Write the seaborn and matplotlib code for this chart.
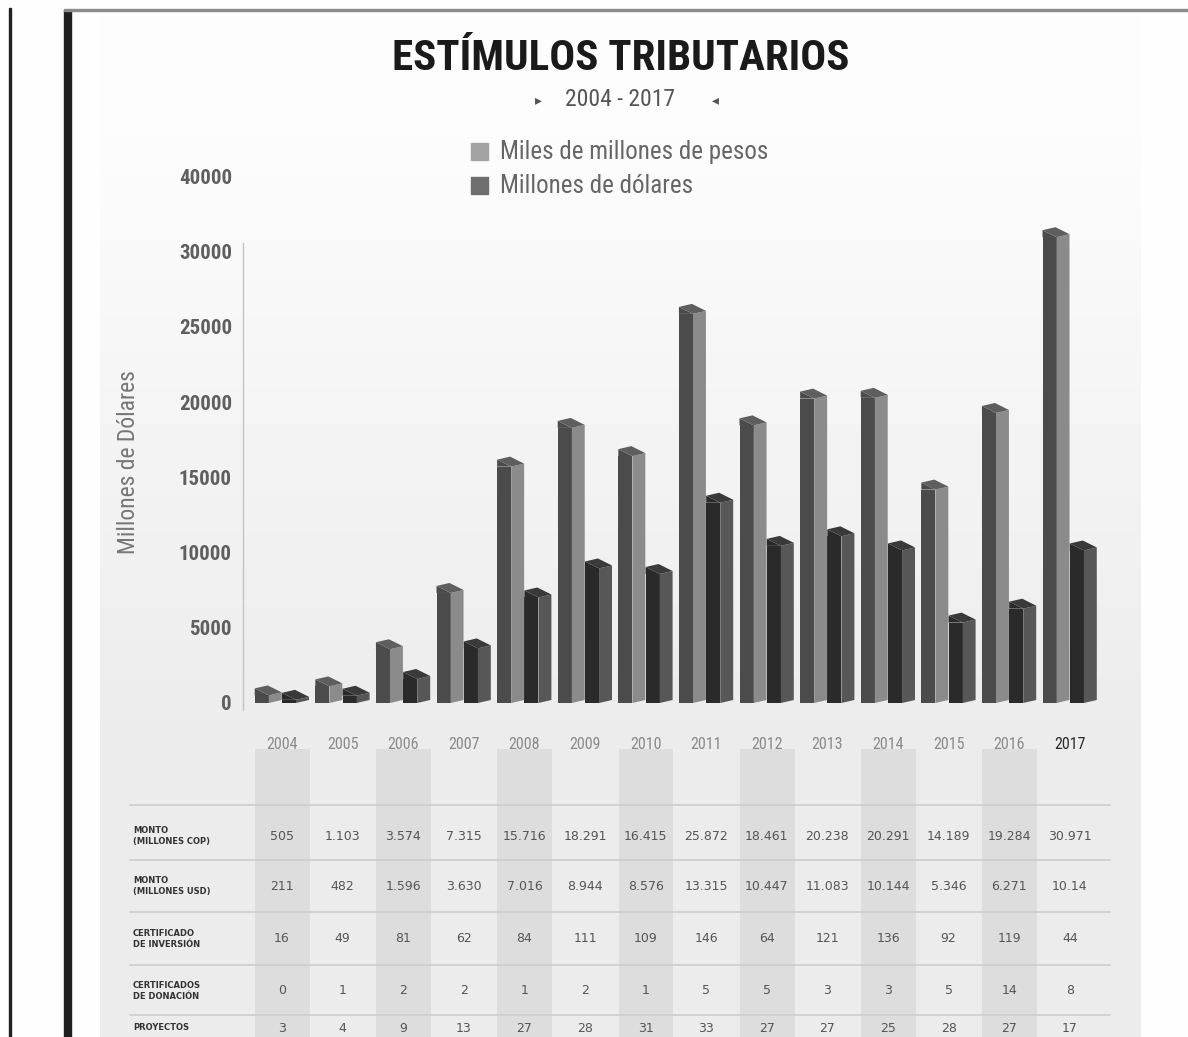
import numpy as np
import pandas as pd
import matplotlib
matplotlib.use("Agg")
import matplotlib.pyplot as plt
from matplotlib import font_manager as fm
from matplotlib.patches import Rectangle, Polygon
import seaborn as sns

# ---------------- data ----------------
years = ["2004", "2005", "2006", "2007", "2008", "2009", "2010",
         "2011", "2012", "2013", "2014", "2015", "2016", "2017"]
series = ["Miles de millones de pesos", "Millones de dólares"]
monto_cop = [505, 1103, 3574, 7315, 15716, 18291, 16415,
             25872, 18461, 20238, 20291, 14189, 19284, 30971]
monto_usd = [211, 482, 1596, 3630, 7016, 8944, 8576,
             13315, 10447, 11083, 10144, 5346, 6271, 10140]
cert_inversion = [16, 49, 81, 62, 84, 111, 109, 146, 64, 121, 136, 92, 119, 44]
cert_donacion = [0, 1, 2, 2, 1, 2, 1, 5, 5, 3, 3, 5, 14, 8]
proyectos = [3, 4, 9, 13, 27, 28, 31, 33, 27, 27, 25, 28, 27, 17]
row_labels = ["MONTO\n(MILLONES COP)", "MONTO\n(MILLONES USD)",
              "CERTIFICADO\nDE INVERSIÓN", "CERTIFICADOS\nDE DONACIÓN",
              "PROYECTOS"]
y_ticks = [0, 5000, 10000, 15000, 20000, 25000, 30000, 35000]
y_ticklabels = ["0", "5000", "10000", "15000", "20000", "25000", "30000", "40000"]


def miles(v):
    return f"{v:,}".replace(",", ".")


usd_text = [miles(v) for v in monto_usd]
usd_text[-1] = "10.14"
table_rows = [
    [miles(v) for v in monto_cop],
    usd_text,
    [str(v) for v in cert_inversion],
    [str(v) for v in cert_donacion],
    [str(v) for v in proyectos],
]

# ---------------- style ----------------
sns.set_theme(style="white")


def pick(cands):
    for c in cands:
        try:
            fm.findfont(fm.FontProperties(family=c), fallback_to_default=False)
            return c
        except Exception:
            pass
    return "DejaVu Sans"


NARROW = pick(["Liberation Sans Narrow", "DejaVu Sans Condensed",
               "Roboto Condensed", "Liberation Sans"])
plt.rcParams["font.family"] = [NARROW, "DejaVu Sans"]

W, H = 1188, 1037
fig = plt.figure(figsize=(W / 100, H / 100), dpi=100)


def fx(x):
    return x / W


def fy(y):
    return 1 - y / H


# ---------------- background ----------------
ax_bg = fig.add_axes([0, 0, 1, 1], zorder=-10)
yy = np.arange(H)[:, None]
xx = np.arange(W)[None, :]
shade = 0.99 - 0.065 * np.clip((yy - 120) / 600.0, 0, 1)
panel = (xx >= 100) & (xx <= 1140) & (yy >= 14)
bg = np.where(panel, shade, 0.993)
ax_bg.imshow(bg, cmap="gray", vmin=0, vmax=1, extent=(0, W, H, 0),
             aspect="auto", interpolation="bilinear")
ax_bg.add_patch(Rectangle((9, 8), 2, H, color="#222222"))
ax_bg.add_patch(Rectangle((64, 10), 7, H, color="#1f1f1f"))
ax_bg.add_patch(Rectangle((64, 9), W - 64, 2, color="#8c8c8c"))
ax_bg.set_xlim(0, W)
ax_bg.set_ylim(H, 0)
ax_bg.axis("off")

# ---------------- titles & legend ----------------
fig.text(fx(621), fy(58), "ESTÍMULOS TRIBUTARIOS", ha="center", va="center",
         fontsize=31, fontweight="bold", color="#1a1a1a")
fig.text(fx(620), fy(100), "2004 - 2017", ha="center", va="center",
         fontsize=17, color="#555555")
fig.text(fx(538), fy(100), "▸", ha="center", va="center", fontsize=10,
         color="#555555", family="DejaVu Sans")
fig.text(fx(715), fy(100), "◂", ha="center", va="center", fontsize=10,
         color="#555555", family="DejaVu Sans")

legend_sw = ["#a3a3a3", "#6e6e6e"]
for i, (name, col) in enumerate(zip(series, legend_sw)):
    yc = 152 + 34 * i
    fig.patches.append(Rectangle((fx(471), fy(yc + 8)), 17 / W, 17 / H,
                                 transform=fig.transFigure, color=col))
    fig.text(fx(500), fy(yc), name, ha="left", va="center",
             fontsize=18, color="#666666")

# ---------------- bar chart ----------------
UNIT = 60.6          # pixels per category
Y_PER_PX = 5000 / 75.2
ax = fig.add_axes([fx(243), fy(720), (1110 - 243) / W, (720 - 170) / H])
ax.set_facecolor("none")

df = pd.DataFrame({
    "Año": years * 2,
    "Serie": [series[0]] * len(years) + [series[1]] * len(years),
    "Valor": monto_cop + monto_usd,
})
front = {series[0]: "#4b4b4b", series[1]: "#2a2a2a"}
side = {series[0]: "#8b8b8b", series[1]: "#575757"}
cap = {series[0]: "#5e5e5e", series[1]: "#3a3a3a"}

sns.barplot(data=df, x="Año", y="Valor", hue="Serie", hue_order=series,
            order=years, palette=front, width=0.9, gap=0, saturation=1,
            linewidth=0, edgecolor="none", legend=False, ax=ax)

u = 7 * Y_PER_PX     # rise of the left receding edge
v = 3 * Y_PER_PX     # rise of the right receding edge
for name, cont in zip(series, ax.containers):
    for p in cont.patches:
        xl, w, T = p.get_x(), p.get_width(), p.get_height()
        wl = w * 0.515
        wr = w * 0.475
        p.set_width(wl)
        xm, xr = xl + wl, xl + wl + wr
        # sloped top of the left face
        ax.add_patch(Polygon([(xl, T), (xl, T + u), (xm, T)], closed=True,
                             color=front[name], lw=0, zorder=p.get_zorder()))
        # right face
        ax.add_patch(Polygon([(xm, 0), (xm, T), (xr, T + v), (xr, v)],
                             closed=True, color=side[name], lw=0,
                             zorder=p.get_zorder()))
        # top cap
        ax.add_patch(Polygon([(xm, T), (xl, T + u), (xl + wr, T + u + v),
                              (xr, T + v)], closed=True, color=cap[name],
                             lw=0, zorder=p.get_zorder() + 0.1))

ax.set_xlim((243 - 282) / UNIT, (1110 - 282) / UNIT)
ax.set_ylim(-(720 - 703) * Y_PER_PX, (703 - 170) * Y_PER_PX)
ax.set_yticks(y_ticks)
ax.set_yticklabels(y_ticklabels, fontsize=15, fontweight="bold",
                   color="#5f5f5f")
ax.set_xticks(range(len(years)))
ax.set_xticklabels(years, fontsize=11.5, color="#8a8a8a")
xt = ax.get_xticklabels()
xt[-1].set_color("#2a2a2a")
ax.tick_params(axis="x", length=0, pad=12)
ax.tick_params(axis="y", length=0, pad=8)
ax.set_xlabel("")
ax.set_ylabel("Millones de Dólares", fontsize=17, color="#777777")
ax.yaxis.set_label_coords((140 - 243) / (1110 - 243), (720 - 462) / 550)
for s in ["top", "right", "bottom"]:
    ax.spines[s].set_visible(False)
ax.spines["left"].set_color("#c4c4c4")
ax.spines["left"].set_linewidth(1)
ax.spines["left"].set_bounds(-7 * Y_PER_PX, (703 - 243) * Y_PER_PX)

# ---------------- data table ----------------
ax_t = fig.add_axes([fx(100), 0, (1130 - 100) / W, (H - 745) / H], zorder=-5)
ax_t.set_xlim((100 - 282) / UNIT, (1130 - 282) / UNIT)
ax_t.set_ylim(H, 745)
ax_t.axis("off")
for i in range(0, len(years), 2):
    ax_t.add_patch(Rectangle((i - 0.445, 749), 0.905, 400,
                             color="#d2d2d2", alpha=0.55, lw=0))
x_line0, x_line1 = (130 - 282) / UNIT, (1110 - 282) / UNIT
for yl in [805, 860, 912, 965, 1015]:
    ax_t.plot([x_line0, x_line1], [yl, yl], color="#cdcdcd", lw=1.2)

row_y = [836, 886, 939, 991, 1028]
for lab, vals, yc in zip(row_labels, table_rows, row_y):
    ax_t.text((133 - 282) / UNIT, yc, lab, ha="left", va="center",
              fontsize=6, fontweight="bold", color="#333333",
              family="DejaVu Sans", linespacing=1.15)
    for i, s in enumerate(vals):
        ax_t.text(i, yc, s, ha="center", va="center", fontsize=9,
                  color="#555555", family="DejaVu Sans")

fig.savefig("out.png", dpi=100)
